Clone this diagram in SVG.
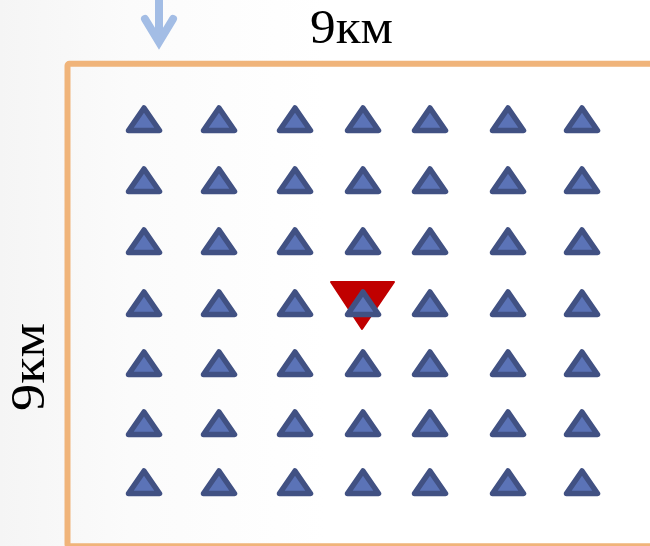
<svg xmlns="http://www.w3.org/2000/svg" xmlns:xlink="http://www.w3.org/1999/xlink" width="650" height="546" viewBox="0 0 650 546">
<defs>
<linearGradient id="bg" x1="0" y1="0" x2="1" y2="0">
<stop offset="0" stop-color="#f5f5f5"/>
<stop offset="0.2" stop-color="#fbfbfb"/>
<stop offset="0.5" stop-color="#ffffff"/>
</linearGradient>
<path id="tri" d="M0,-11 L15.5,11.5 L-15.5,11.5 Z"/>
</defs>
<style>
.sta{fill:#5b73b7;stroke:#415183;stroke-width:5.5;stroke-linejoin:round}
.lbl{font-family:"Liberation Serif","Times New Roman",serif;font-size:48px;fill:#000}
.frame{fill:none;stroke:#f0b47a;stroke-width:6}
.arrow{stroke:#a3bde5;stroke-width:8;fill:none}
</style>
<rect width="650" height="546" fill="url(#bg)"/>
<g id="area">
<rect class="frame" x="67.5" y="63.7" width="640" height="482.5" rx="2"/>
</g>
<g id="labels">
<text class="lbl" x="351.5" y="43" text-anchor="middle" textLength="83" lengthAdjust="spacingAndGlyphs">9км</text>
<text class="lbl" transform="translate(44,367) rotate(-90)" text-anchor="middle" textLength="88" lengthAdjust="spacingAndGlyphs">9км</text>
</g>
<g id="connectors">
<line class="arrow" x1="159" y1="0" x2="159" y2="42"/>
<polyline class="arrow" points="145,19 159,42 173,19" stroke-linecap="round" stroke-miterlimit="10"/>
</g>
<g id="source">
<polygon points="331,282 394,282 362,329" fill="#c00000" stroke="#c00000" stroke-width="2" stroke-linejoin="round"/>
</g>
<g id="stations">
<g id="s1-1"><use href="#tri" class="sta" x="144" y="119"/></g>
<g id="s1-2"><use href="#tri" class="sta" x="219" y="119"/></g>
<g id="s1-3"><use href="#tri" class="sta" x="295" y="119"/></g>
<g id="s1-4"><use href="#tri" class="sta" x="363" y="119"/></g>
<g id="s1-5"><use href="#tri" class="sta" x="430" y="119"/></g>
<g id="s1-6"><use href="#tri" class="sta" x="508" y="119"/></g>
<g id="s1-7"><use href="#tri" class="sta" x="582" y="119"/></g>
<g id="s2-1"><use href="#tri" class="sta" x="144" y="180"/></g>
<g id="s2-2"><use href="#tri" class="sta" x="219" y="180"/></g>
<g id="s2-3"><use href="#tri" class="sta" x="295" y="180"/></g>
<g id="s2-4"><use href="#tri" class="sta" x="363" y="180"/></g>
<g id="s2-5"><use href="#tri" class="sta" x="430" y="180"/></g>
<g id="s2-6"><use href="#tri" class="sta" x="508" y="180"/></g>
<g id="s2-7"><use href="#tri" class="sta" x="582" y="180"/></g>
<g id="s3-1"><use href="#tri" class="sta" x="144" y="241"/></g>
<g id="s3-2"><use href="#tri" class="sta" x="219" y="241"/></g>
<g id="s3-3"><use href="#tri" class="sta" x="295" y="241"/></g>
<g id="s3-4"><use href="#tri" class="sta" x="363" y="241"/></g>
<g id="s3-5"><use href="#tri" class="sta" x="430" y="241"/></g>
<g id="s3-6"><use href="#tri" class="sta" x="508" y="241"/></g>
<g id="s3-7"><use href="#tri" class="sta" x="582" y="241"/></g>
<g id="s4-1"><use href="#tri" class="sta" x="144" y="303"/></g>
<g id="s4-2"><use href="#tri" class="sta" x="219" y="303"/></g>
<g id="s4-3"><use href="#tri" class="sta" x="295" y="303"/></g>
<g id="s4-4"><use href="#tri" class="sta" x="363" y="303"/></g>
<g id="s4-5"><use href="#tri" class="sta" x="430" y="303"/></g>
<g id="s4-6"><use href="#tri" class="sta" x="508" y="303"/></g>
<g id="s4-7"><use href="#tri" class="sta" x="582" y="303"/></g>
<g id="s5-1"><use href="#tri" class="sta" x="144" y="363"/></g>
<g id="s5-2"><use href="#tri" class="sta" x="219" y="363"/></g>
<g id="s5-3"><use href="#tri" class="sta" x="295" y="363"/></g>
<g id="s5-4"><use href="#tri" class="sta" x="363" y="363"/></g>
<g id="s5-5"><use href="#tri" class="sta" x="430" y="363"/></g>
<g id="s5-6"><use href="#tri" class="sta" x="508" y="363"/></g>
<g id="s5-7"><use href="#tri" class="sta" x="582" y="363"/></g>
<g id="s6-1"><use href="#tri" class="sta" x="144" y="423"/></g>
<g id="s6-2"><use href="#tri" class="sta" x="219" y="423"/></g>
<g id="s6-3"><use href="#tri" class="sta" x="295" y="423"/></g>
<g id="s6-4"><use href="#tri" class="sta" x="363" y="423"/></g>
<g id="s6-5"><use href="#tri" class="sta" x="430" y="423"/></g>
<g id="s6-6"><use href="#tri" class="sta" x="508" y="423"/></g>
<g id="s6-7"><use href="#tri" class="sta" x="582" y="423"/></g>
<g id="s7-1"><use href="#tri" class="sta" x="144" y="482"/></g>
<g id="s7-2"><use href="#tri" class="sta" x="219" y="482"/></g>
<g id="s7-3"><use href="#tri" class="sta" x="295" y="482"/></g>
<g id="s7-4"><use href="#tri" class="sta" x="363" y="482"/></g>
<g id="s7-5"><use href="#tri" class="sta" x="430" y="482"/></g>
<g id="s7-6"><use href="#tri" class="sta" x="508" y="482"/></g>
<g id="s7-7"><use href="#tri" class="sta" x="582" y="482"/></g>
</g>
</svg>
